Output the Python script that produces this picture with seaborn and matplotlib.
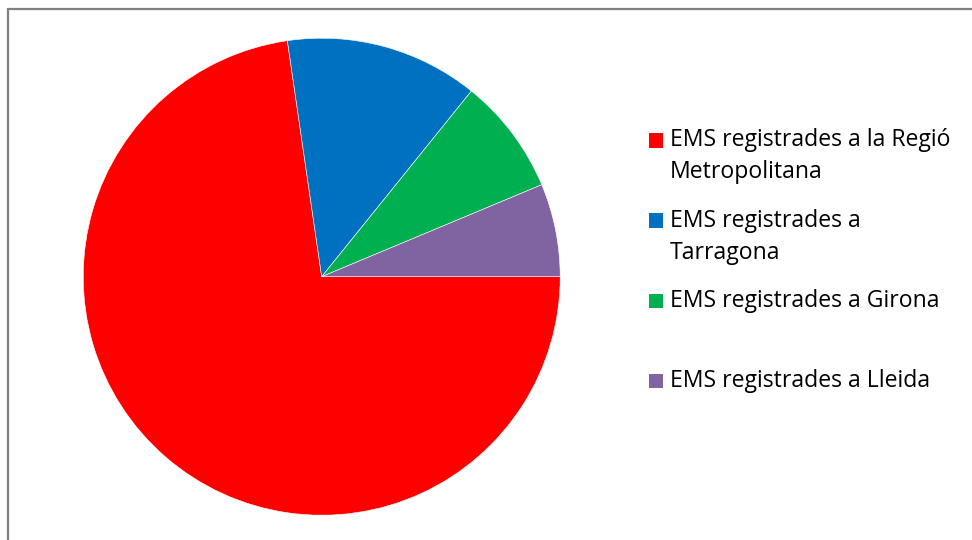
import matplotlib
matplotlib.use("Agg")
import matplotlib.pyplot as plt
import seaborn as sns
from matplotlib.patches import Rectangle

# Share of EMS registrations by region (%)
labels = ["EMS registrades a la Regió\nMetropolitana",
          "EMS registrades a\nTarragona",
          "EMS registrades a Girona",
          "EMS registrades a Lleida"]
values = [72.7, 13.1, 7.9, 6.3]
colors = ["#FF0000", "#0070C0", "#00B050", "#8064A2"]

sns.set_theme(style="white")
plt.rcParams['font.family'] = ['Open Sans', 'DejaVu Sans']

W, H = 972, 540
fig = plt.figure(figsize=(W / 100, H / 100), dpi=100)
fig.patch.set_facecolor("white")

# pie: centre (321.7, 276.7) px, radius 238.5 px
cx, cy, r = 321.7, 276.7, 238.5
ax = fig.add_axes([(cx - r) / W, (H - cy - r) / H, 2 * r / W, 2 * r / H])
ax.pie(values, colors=colors, startangle=0, counterclock=False,
       wedgeprops=dict(edgecolor="white", linewidth=0.4))
ax.set_xlim(-1, 1)
ax.set_ylim(-1, 1)
ax.set_aspect("equal")
ax.axis("off")

# outer chart border (right / bottom sides fall outside the image)
fig.patches.append(Rectangle((7.5 / W, -0.05), 1.1, (H - 8.5) / H + 0.05,
                             transform=fig.transFigure, fill=False,
                             edgecolor="#808080", linewidth=1.6))

# legend, one slot of 80 px per entry
y0 = 140.5
for i, (lab, col) in enumerate(zip(labels, colors)):
    yc = y0 + i * 80.3
    fig.patches.append(Rectangle((649 / W, 1 - (yc + 7) / H), 14.3 / W, 14.5 / H,
                                 transform=fig.transFigure, facecolor=col,
                                 edgecolor="none"))
    for j, line in enumerate(lab.split("\n")):
        fig.text(670 / W, 1 - (yc + j * 32) / H, line, fontsize=16.6,
                 color="#000000", va="center", ha="left")

fig.savefig("out.png", dpi=100)
